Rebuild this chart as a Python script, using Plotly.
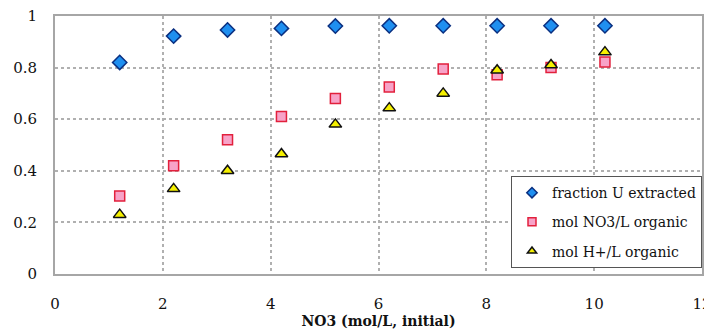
import plotly.graph_objects as go

no3_initial = [1.2, 2.2, 3.2, 4.2, 5.2, 6.2, 7.2, 8.2, 9.2, 10.2]
fraction_u = [0.82, 0.922, 0.946, 0.952, 0.961, 0.962, 0.962, 0.962, 0.962, 0.962]
mol_no3_org = [0.302, 0.42, 0.52, 0.61, 0.68, 0.725, 0.795, 0.772, 0.80, 0.822]
mol_h_org = [0.23, 0.33, 0.40, 0.465, 0.58, 0.643, 0.70, 0.79, 0.81, 0.86]

series_names = ["fraction U extracted", "mol NO3/L organic", "mol H+/L organic"]

x_ticks = [0, 2, 4, 6, 8, 10, 12]
y_ticks = [0, 0.2, 0.4, 0.6, 0.8, 1]
y_ticklabels = ["0", "0.2", "0.4", "0.6", "0.8", "1"]

font_family = "DejaVu Serif"

styles = [
    dict(symbol="diamond", color="#1f8ff0", line=dict(color="#0a2f80", width=1.5)),
    dict(symbol="square", color="#f7a3c8", line=dict(color="#e2203c", width=1.5)),
    dict(symbol="triangle-up", color="#f5f000", line=dict(color="#111111", width=1.5)),
]
sizes = [11, 10, 11]
values = [fraction_u, mol_no3_org, mol_h_org]

fig = go.Figure()
for name, vals, st, sz in zip(series_names, values, styles, sizes):
    fig.add_trace(go.Scatter(
        x=no3_initial, y=vals, mode="markers", name=name, showlegend=False,
        marker=dict(size=sz, **st)))
for name, st in zip(series_names, styles):
    fig.add_trace(go.Scatter(
        x=[None], y=[None], mode="markers", name=name, showlegend=True,
        legendgroup=name,
        marker=dict(size=8, **st)))

fig.update_layout(
    width=704, height=327,
    margin=dict(l=47, r=10, t=8, b=61, autoexpand=False),
    paper_bgcolor="white", plot_bgcolor="white",
    font=dict(family=font_family, size=14, color="#111111"),
    showlegend=True,
    legend=dict(
        x=1.0, y=0.023, xanchor="right", yanchor="bottom",
        bgcolor="white", bordercolor="#555555", borderwidth=1,
        font=dict(family=font_family, size=14, color="#111111"),
        tracegroupgap=8, itemwidth=30, itemsizing="trace",
    ),
    xaxis=dict(
        range=[0, 12], tickvals=x_ticks, ticks="", showline=True,
        linecolor="#a6a6a6", linewidth=2, mirror=True, automargin=False,
        showgrid=True, gridcolor="#b0b0b0", griddash="dot", gridwidth=1.5,
        zeroline=False, tickfont=dict(family=font_family, size=15), ticklabelstandoff=15,
        ticklabeloverflow="allow",
        title=dict(text="<b>NO3 (mol/L, initial)</b>", font=dict(family=font_family, size=14), standoff=4),
    ),
    yaxis=dict(
        range=[0, 1], tickvals=y_ticks, ticktext=y_ticklabels, ticks="",
        showline=True, linecolor="#a6a6a6", linewidth=2, mirror=True, automargin=False,
        showgrid=True, gridcolor="#b0b0b0", griddash="dot", gridwidth=1.5,
        zeroline=False, tickfont=dict(family=font_family, size=15), ticklabelstandoff=13,
        ticklabeloverflow="allow",
    ),
)

fig.write_html("out.html")
